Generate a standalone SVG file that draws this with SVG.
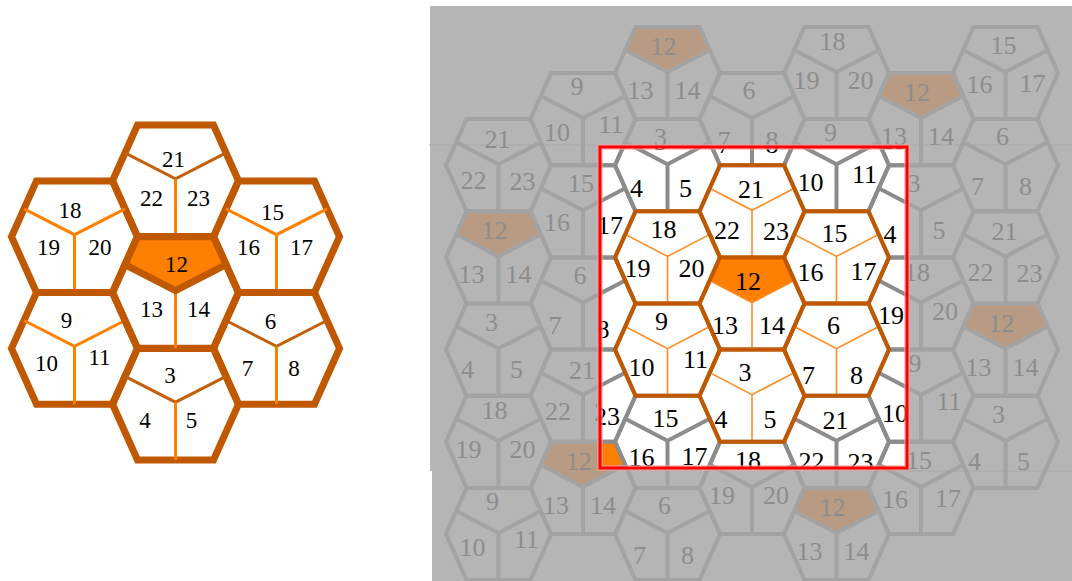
<svg xmlns="http://www.w3.org/2000/svg" xmlns:xlink="http://www.w3.org/1999/xlink" width="1072" height="581" viewBox="0 0 1072 581">
<style>
.gl{fill:none;stroke:#a3a3a3;stroke-width:4}
.gt{fill:#8d8d8d;stroke:none}
.tan{fill:#b89b82;stroke:none}
.nb{fill:none;stroke:#8c8c8c;stroke-width:4}
.cb{fill:none;stroke:#c05800;stroke-width:4}
.ci{fill:none;stroke:#ff8a1f;stroke-width:1.6}
.bt{fill:#000;stroke:none}
.or{fill:#ff7f00;stroke:none}
.lb{fill:none;stroke:#c05800;stroke-width:7}
.li{fill:none;stroke:#ff8000;stroke-width:3}
.lid{fill:none;stroke:#c2600c;stroke-width:3}
.lp{fill:#ff7f00;stroke:#c05800;stroke-width:7}
.lt{font-family:'Liberation Serif',serif;font-size:23px;text-anchor:middle;fill:#000}
</style>
<defs>
<path id="hR" d="M-32,-46.1H32L52.5,0L32,46.1H-32L-52.5,0Z"/>
<path id="yR" d="M-42.25,-23.05L0,-1L42.25,-23.05M0,-1V46.1"/>
<path id="pR" d="M-32,-46.1H32L42.25,-23.05L0,-1L-42.25,-23.05Z"/>
<path id="hL" d="M-38,-55.8H38L63,0L38,55.8H-38L-63,0Z"/>
<path id="yBL" d="M-50.5,-27.9L0,-2L50.5,-27.9"/>
<path id="yVL" d="M0,-2V55.8"/>
<path id="pL" d="M-38,-55.8H38L50.5,-27.9L0,-2L-50.5,-27.9Z"/>
<g id="r12" font-family="'Liberation Serif',serif" font-size="26" text-anchor="middle"><text x="-4" y="-14">12</text><text x="-27" y="30">13</text><text x="20" y="30">14</text></g>
<g id="r21" font-family="'Liberation Serif',serif" font-size="26" text-anchor="middle"><text x="-1" y="-13">21</text><text x="-25" y="28">22</text><text x="24" y="29">23</text></g>
<g id="r18" font-family="'Liberation Serif',serif" font-size="26" text-anchor="middle"><text x="-4" y="-19">18</text><text x="-30" y="20">19</text><text x="24" y="20">20</text></g>
<g id="r15" font-family="'Liberation Serif',serif" font-size="26" text-anchor="middle"><text x="-2" y="-15">15</text><text x="-26" y="24">16</text><text x="27" y="23">17</text></g>
<g id="r9" font-family="'Liberation Serif',serif" font-size="26" text-anchor="middle"><text x="-6" y="-20">9</text><text x="-26" y="26">10</text><text x="28" y="18">11</text></g>
<g id="r3" font-family="'Liberation Serif',serif" font-size="26" text-anchor="middle"><text x="-7" y="-15">3</text><text x="-31" y="32">4</text><text x="18" y="32">5</text></g>
<g id="r6" font-family="'Liberation Serif',serif" font-size="26" text-anchor="middle"><text x="-3" y="-16">6</text><text x="-28" y="34">7</text><text x="20" y="34">8</text></g>
<clipPath id="box"><rect x="600" y="147" width="307" height="321"/></clipPath>
</defs>

<g id="left-cluster">
<g id="L21" transform="translate(175.5,180.8)"><use href="#hL" class="lb"/><use href="#yBL" class="lid"/><use href="#yVL" class="li"/><text class="lt" x="-2" y="-13.5">21</text><text class="lt" x="-24" y="25.5">22</text><text class="lt" x="23" y="25.5">23</text></g>
<g id="L18" transform="translate(74.5,236.7)"><use href="#hL" class="lb"/><use href="#yBL" class="li"/><use href="#yVL" class="li"/><text class="lt" x="-4.5" y="-18.5">18</text><text class="lt" x="-26" y="18">19</text><text class="lt" x="25.5" y="18">20</text></g>
<g id="L15" transform="translate(276.5,236.7)"><use href="#hL" class="lb"/><use href="#yBL" class="li"/><use href="#yVL" class="li"/><text class="lt" x="-4" y="-17">15</text><text class="lt" x="-28" y="18">16</text><text class="lt" x="25" y="18">17</text></g>
<g id="L9" transform="translate(74.5,348.4)"><use href="#hL" class="lb"/><use href="#yBL" class="li"/><use href="#yVL" class="li"/><text class="lt" x="-8" y="-20.5">9</text><text class="lt" x="-28" y="23">10</text><text class="lt" x="25" y="17">11</text></g>
<g id="L6" transform="translate(276.5,348.4)"><use href="#hL" class="lb"/><use href="#yBL" class="lid"/><use href="#yVL" class="li"/><text class="lt" x="-6" y="-19.5">6</text><text class="lt" x="-29" y="28">7</text><text class="lt" x="17.5" y="28">8</text></g>
<g id="L3" transform="translate(175.5,404.2)"><use href="#hL" class="lb"/><use href="#yBL" class="lid"/><use href="#yVL" class="li"/><text class="lt" x="-5.5" y="-21">3</text><text class="lt" x="-30.5" y="24">4</text><text class="lt" x="16" y="24">5</text></g>
<g id="L12" transform="translate(175.5,292.5)"><use href="#hL" class="lb"/><use href="#yVL" class="li"/><use href="#pL" class="lp"/><text class="lt" x="1" y="-21">12</text><text class="lt" x="-24" y="24">13</text><text class="lt" x="23" y="24">14</text></g>
</g>

<g id="tiling-background">
<rect x="430" y="6" width="642" height="575" fill="#b5b5b5"/>
<rect x="430" y="471" width="2" height="110" fill="#ffffff"/>
<path d="M429,145H600M907,145H1072M907,471H1072" stroke="#a9a9a9" stroke-width="1" fill="none"/>
</g>

<g id="gray-tiling">
<g id="g-3_0" transform="translate(498.5,165.2)"><use href="#hR" class="gl"/><use href="#yR" class="gl"/><use href="#r21" class="gt" y="-4"/></g>
<g id="g-3_1" transform="translate(498.5,257.4)"><use href="#pR" class="tan"/><use href="#hR" class="gl"/><use href="#yR" class="gl"/><use href="#r12" class="gt" y="-4"/></g>
<g id="g-3_2" transform="translate(498.5,349.6)"><use href="#hR" class="gl"/><use href="#yR" class="gl"/><use href="#r3" class="gt" y="-4"/></g>
<g id="g-3_3" transform="translate(498.5,441.8)"><use href="#hR" class="gl"/><use href="#yR" class="gl"/><use href="#r18" class="gt" y="-4"/></g>
<g id="g-3_4" transform="translate(498.5,534)"><use href="#hR" class="gl"/><use href="#yR" class="gl"/><use href="#r9" class="gt" y="-4"/></g>
<g id="g-2_-1" transform="translate(583,119.1)"><use href="#hR" class="gl"/><use href="#yR" class="gl"/><use href="#r9" class="gt" y="-4"/></g>
<g id="g-2_0" transform="translate(583,211.3)"><use href="#hR" class="gl"/><use href="#yR" class="gl"/><use href="#r15" class="gt" y="-4"/></g>
<g id="g-2_1" transform="translate(583,303.5)"><use href="#hR" class="gl"/><use href="#yR" class="gl"/><use href="#r6" class="gt" y="-4"/></g>
<g id="g-2_2" transform="translate(583,395.7)"><use href="#hR" class="gl"/><use href="#yR" class="gl"/><use href="#r21" class="gt" y="-4"/></g>
<g id="g-2_3" transform="translate(583,487.9)"><use href="#pR" class="tan"/><use href="#hR" class="gl"/><use href="#yR" class="gl"/><use href="#r12" class="gt" y="-4"/></g>
<g id="g-1_-2" transform="translate(667.5,73)"><use href="#pR" class="tan"/><use href="#hR" class="gl"/><use href="#yR" class="gl"/><use href="#r12" class="gt" y="-4"/></g>
<g id="g-1_-1" transform="translate(667.5,165.2)"><use href="#hR" class="gl"/><use href="#yR" class="gl"/><use href="#r3" class="gt" y="-4"/></g>
<g id="g-1_0" transform="translate(667.5,257.4)"><use href="#hR" class="gl"/><use href="#yR" class="gl"/><use href="#r18" class="gt" y="-4"/></g>
<g id="g-1_1" transform="translate(667.5,349.6)"><use href="#hR" class="gl"/><use href="#yR" class="gl"/><use href="#r9" class="gt" y="-4"/></g>
<g id="g-1_2" transform="translate(667.5,441.8)"><use href="#hR" class="gl"/><use href="#yR" class="gl"/><use href="#r15" class="gt" y="-4"/></g>
<g id="g-1_3" transform="translate(667.5,534)"><use href="#hR" class="gl"/><use href="#yR" class="gl"/><use href="#r6" class="gt" y="-4"/></g>
<g id="g0_-2" transform="translate(752,119.1)"><use href="#hR" class="gl"/><use href="#yR" class="gl"/><use href="#r6" class="gt" y="-4"/></g>
<g id="g0_-1" transform="translate(752,211.3)"><use href="#hR" class="gl"/><use href="#yR" class="gl"/><use href="#r21" class="gt" y="-4"/></g>
<g id="g0_0" transform="translate(752,303.5)"><use href="#pR" class="tan"/><use href="#hR" class="gl"/><use href="#yR" class="gl"/><use href="#r12" class="gt" y="-4"/></g>
<g id="g0_1" transform="translate(752,395.7)"><use href="#hR" class="gl"/><use href="#yR" class="gl"/><use href="#r3" class="gt" y="-4"/></g>
<g id="g0_2" transform="translate(752,487.9)"><use href="#hR" class="gl"/><use href="#yR" class="gl"/><use href="#r18" class="gt" y="-4"/></g>
<g id="g1_-3" transform="translate(836.5,73)"><use href="#hR" class="gl"/><use href="#yR" class="gl"/><use href="#r18" class="gt" y="-4"/></g>
<g id="g1_-2" transform="translate(836.5,165.2)"><use href="#hR" class="gl"/><use href="#yR" class="gl"/><use href="#r9" class="gt" y="-4"/></g>
<g id="g1_-1" transform="translate(836.5,257.4)"><use href="#hR" class="gl"/><use href="#yR" class="gl"/><use href="#r15" class="gt" y="-4"/></g>
<g id="g1_0" transform="translate(836.5,349.6)"><use href="#hR" class="gl"/><use href="#yR" class="gl"/><use href="#r6" class="gt" y="-4"/></g>
<g id="g1_1" transform="translate(836.5,441.8)"><use href="#hR" class="gl"/><use href="#yR" class="gl"/><use href="#r21" class="gt" y="-4"/></g>
<g id="g1_2" transform="translate(836.5,534)"><use href="#pR" class="tan"/><use href="#hR" class="gl"/><use href="#yR" class="gl"/><use href="#r12" class="gt" y="-4"/></g>
<g id="g2_-3" transform="translate(921,119.1)"><use href="#pR" class="tan"/><use href="#hR" class="gl"/><use href="#yR" class="gl"/><use href="#r12" class="gt" y="-4"/></g>
<g id="g2_-2" transform="translate(921,211.3)"><use href="#hR" class="gl"/><use href="#yR" class="gl"/><use href="#r3" class="gt" y="-4"/></g>
<g id="g2_-1" transform="translate(921,303.5)"><use href="#hR" class="gl"/><use href="#yR" class="gl"/><use href="#r18" class="gt" y="-4"/></g>
<g id="g2_0" transform="translate(921,395.7)"><use href="#hR" class="gl"/><use href="#yR" class="gl"/><use href="#r9" class="gt" y="-4"/></g>
<g id="g2_1" transform="translate(921,487.9)"><use href="#hR" class="gl"/><use href="#yR" class="gl"/><use href="#r15" class="gt" y="-4"/></g>
<g id="g3_-4" transform="translate(1005.5,73)"><use href="#hR" class="gl"/><use href="#yR" class="gl"/><use href="#r15" class="gt" y="-4"/></g>
<g id="g3_-3" transform="translate(1005.5,165.2)"><use href="#hR" class="gl"/><use href="#yR" class="gl"/><use href="#r6" class="gt" y="-4"/></g>
<g id="g3_-2" transform="translate(1005.5,257.4)"><use href="#hR" class="gl"/><use href="#yR" class="gl"/><use href="#r21" class="gt" y="-4"/></g>
<g id="g3_-1" transform="translate(1005.5,349.6)"><use href="#pR" class="tan"/><use href="#hR" class="gl"/><use href="#yR" class="gl"/><use href="#r12" class="gt" y="-4"/></g>
<g id="g3_0" transform="translate(1005.5,441.8)"><use href="#hR" class="gl"/><use href="#yR" class="gl"/><use href="#r3" class="gt" y="-4"/></g>
</g>

<g id="highlight-box">
<rect x="600" y="147" width="307" height="321" fill="#ffffff"/>
<g clip-path="url(#box)">
<g id="c-2_-1" transform="translate(583,119.1)"><use href="#hR" class="nb"/><use href="#yR" class="nb"/><use href="#r9" class="bt"/></g>
<g id="c-2_0" transform="translate(583,211.3)"><use href="#hR" class="nb"/><use href="#yR" class="nb"/><use href="#r15" class="bt"/></g>
<g id="c-2_1" transform="translate(583,303.5)"><use href="#hR" class="nb"/><use href="#yR" class="nb"/><use href="#r6" class="bt"/></g>
<g id="c-2_2" transform="translate(583,395.7)"><use href="#hR" class="nb"/><use href="#yR" class="nb"/><use href="#r21" class="bt"/></g>
<g id="c-2_3" transform="translate(583,487.9)"><use href="#pR" class="or"/><use href="#hR" class="nb"/><use href="#yR" class="nb"/><use href="#r12" class="bt"/></g>
<g id="c-1_-1" transform="translate(667.5,165.2)"><use href="#hR" class="nb"/><use href="#yR" class="nb"/><use href="#r3" class="bt"/></g>
<g id="c-1_2" transform="translate(667.5,441.8)"><use href="#hR" class="nb"/><use href="#yR" class="nb"/><use href="#r15" class="bt"/></g>
<g id="c0_-2" transform="translate(752,119.1)"><use href="#hR" class="nb"/><use href="#yR" class="nb"/><use href="#r6" class="bt"/></g>
<g id="c0_2" transform="translate(752,487.9)"><use href="#hR" class="nb"/><use href="#yR" class="nb"/><use href="#r18" class="bt"/></g>
<g id="c1_-2" transform="translate(836.5,165.2)"><use href="#hR" class="nb"/><use href="#yR" class="nb"/><use href="#r9" class="bt"/></g>
<g id="c1_1" transform="translate(836.5,441.8)"><use href="#hR" class="nb"/><use href="#yR" class="nb"/><use href="#r21" class="bt"/></g>
<g id="c2_-3" transform="translate(921,119.1)"><use href="#pR" class="or"/><use href="#hR" class="nb"/><use href="#yR" class="nb"/><use href="#r12" class="bt"/></g>
<g id="c2_-2" transform="translate(921,211.3)"><use href="#hR" class="nb"/><use href="#yR" class="nb"/><use href="#r3" class="bt"/></g>
<g id="c2_-1" transform="translate(921,303.5)"><use href="#hR" class="nb"/><use href="#yR" class="nb"/><use href="#r18" class="bt"/></g>
<g id="c2_0" transform="translate(921,395.7)"><use href="#hR" class="nb"/><use href="#yR" class="nb"/><use href="#r9" class="bt"/></g>
<g id="c2_1" transform="translate(921,487.9)"><use href="#hR" class="nb"/><use href="#yR" class="nb"/><use href="#r15" class="bt"/></g>
<g id="k18" transform="translate(667.5,257.4)"><use href="#yR" class="ci"/><use href="#hR" class="cb"/><use href="#r18" class="bt"/></g>
<g id="k9" transform="translate(667.5,349.6)"><use href="#yR" class="ci"/><use href="#hR" class="cb"/><use href="#r9" class="bt"/></g>
<g id="k21" transform="translate(752,211.3)"><use href="#yR" class="ci"/><use href="#hR" class="cb"/><use href="#r21" class="bt"/></g>
<g id="k3" transform="translate(752,395.7)"><use href="#yR" class="ci"/><use href="#hR" class="cb"/><use href="#r3" class="bt"/></g>
<g id="k15" transform="translate(836.5,257.4)"><use href="#yR" class="ci"/><use href="#hR" class="cb"/><use href="#r15" class="bt"/></g>
<g id="k6" transform="translate(836.5,349.6)"><use href="#yR" class="ci"/><use href="#hR" class="cb"/><use href="#r6" class="bt"/></g>
<g id="k12" transform="translate(752,303.5)"><use href="#pR" class="or"/><use href="#yR" class="ci"/><use href="#hR" class="cb"/><use href="#r12" class="bt"/></g>
</g>
<rect x="600" y="147" width="307" height="321" fill="none" stroke="#f0a0a0" stroke-opacity="0.6" stroke-width="6"/>
<rect x="600" y="147" width="307" height="321" fill="none" stroke="#ff0000" stroke-width="3"/>
</g>
</svg>
